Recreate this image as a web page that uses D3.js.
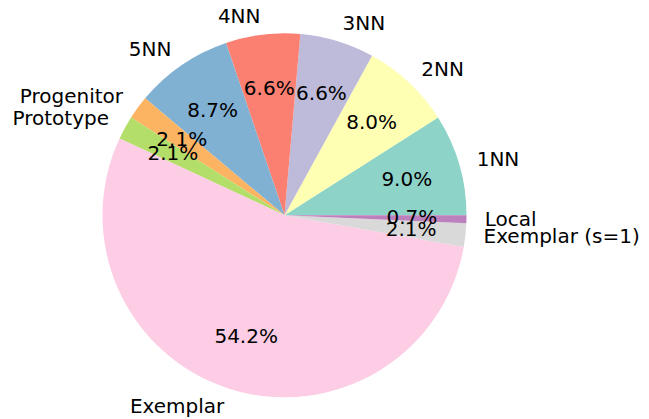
<!DOCTYPE html>
<html>
<head>
<meta charset="utf-8">
<script src="https://cdn.jsdelivr.net/npm/d3@7"></script>
<style>
  html, body { margin: 0; padding: 0; background: #fff; }
  svg { display: block; }
  text { font-family: "DejaVu Sans", sans-serif; font-size: 20px; fill: #000; }
</style>
</head>
<body>
<svg id="chart" width="649" height="419"></svg>
<script>
const labels = ["1NN", "2NN", "3NN", "4NN", "5NN", "Progenitor", "Prototype", "Exemplar", "Exemplar (s=1)", "Local"];
const counts = [26, 23, 19, 19, 25, 6, 6, 156, 6, 2];
const colors = ["#8dd3c7", "#ffffb3", "#bebada", "#fb8072", "#80b1d3", "#fdb462", "#b3de69", "#fccde5", "#d9d9d9", "#bc80bd"];

const W = 649, H = 419;
const cx = 284.5, cy = 215.3, R = 182;
const labelDist = 1.1, pctDist = 0.7;

const svg = d3.select("#chart");
const g = svg.append("g").attr("transform", `translate(${cx},${cy})`);

const data = labels.map((l, i) => ({ label: l, value: counts[i], color: colors[i] }));
const total = d3.sum(counts);

// matplotlib: start at 3 o'clock, counterclockwise
const pie = d3.pie().value(d => d.value).sort(null)
  .startAngle(Math.PI / 2).endAngle(Math.PI / 2 - 2 * Math.PI);
const arcs = pie(data);
const arc = d3.arc().innerRadius(0).outerRadius(R);

g.selectAll("path.wedge").data(arcs).enter().append("path")
  .attr("class", "wedge")
  .attr("d", arc)
  .attr("fill", d => d.data.color);

const mid = d => (d.startAngle + d.endAngle) / 2;
const fmt = d3.format(".1f");

g.selectAll("text.lbl").data(arcs).enter().append("text")
  .attr("class", "lbl")
  .attr("x", d => Math.sin(mid(d)) * R * labelDist)
  .attr("y", d => -Math.cos(mid(d)) * R * labelDist)
  .attr("dy", "0.32em")
  .attr("text-anchor", d => Math.sin(mid(d)) > 0 ? "start" : "end")
  .text(d => d.data.label);

g.selectAll("text.pct").data(arcs).enter().append("text")
  .attr("class", "pct")
  .attr("x", d => Math.sin(mid(d)) * R * pctDist)
  .attr("y", d => -Math.cos(mid(d)) * R * pctDist)
  .attr("dy", "0.32em")
  .attr("text-anchor", "middle")
  .text(d => fmt(d.data.value / total * 100) + "%");
</script>
</body>
</html>
